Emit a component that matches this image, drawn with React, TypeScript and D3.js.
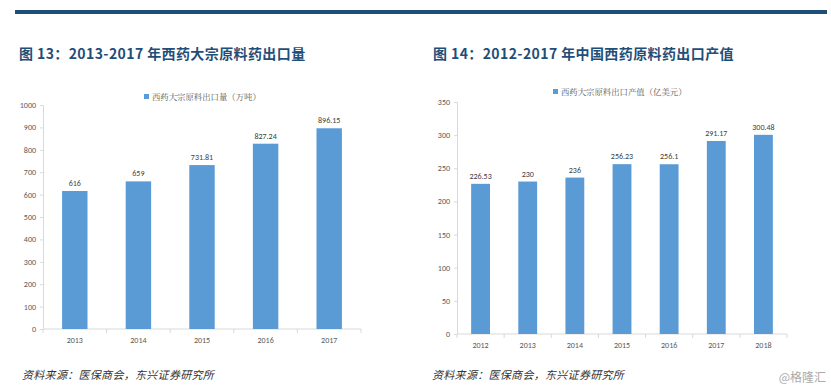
import { useRef, useEffect } from 'react';
import * as d3 from 'd3';

// 图 13
const volumeYears = ['2013', '2014', '2015', '2016', '2017'];
const volumeValues = [616, 659, 731.81, 827.24, 896.15];
const volumeTicks = [0, 100, 200, 300, 400, 500, 600, 700, 800, 900, 1000];

// 图 14
const valueYears = ['2012', '2013', '2014', '2015', '2016', '2017', '2018'];
const valueValues = [226.53, 230, 236, 256.23, 256.1, 291.17, 300.48];
const valueTicks = [0, 50, 100, 150, 200, 250, 300, 350];

const BAR = '#5b9bd5';
const AXIS = '#d9d9d9';
const TXT = '#595959';
const CJK = '"Noto Sans CJK SC", "Noto Sans", sans-serif';

const drawPanel = (svg, opts) => {
  const { years, values, ticks, max, left, right, top, bottom, title, titleX, legend, legendX, legendY, fmt } = opts;
  const g = svg.append('g');

  g.append('text')
    .attr('x', titleX)
    .attr('y', 59)
    .attr('fill', '#1f4e79')
    .attr('font-family', CJK)
    .attr('font-weight', 'bold')
    .attr('font-size', 14)
    .attr('letter-spacing', 0.4)
    .text(title);

  const x = d3.scaleBand().domain(years).range([left, right]).paddingInner(0.6).paddingOuter(0.3);
  const y = d3.scaleLinear().domain([0, max]).range([bottom, top]);

  // y axis
  const yAxis = g.append('g')
    .attr('transform', `translate(${left},0)`)
    .call(d3.axisLeft(y).tickValues(ticks).tickSize(3).tickPadding(4).tickFormat(d3.format('d')));
  yAxis.select('.domain').attr('stroke', AXIS);
  yAxis.selectAll('.tick line').attr('stroke', AXIS);
  yAxis.selectAll('.tick text').attr('fill', TXT).attr('font-size', 8).attr('font-family', 'Calibri, "Liberation Sans", sans-serif');

  // x axis with boundary ticks
  const xAxis = g.append('g').attr('transform', `translate(0,${bottom})`);
  xAxis.append('line').attr('x1', left).attr('x2', right).attr('stroke', AXIS);
  const step = (right - left) / years.length;
  d3.range(years.length + 1).forEach(i => {
    xAxis.append('line')
      .attr('x1', left + i * step).attr('x2', left + i * step)
      .attr('y1', 0).attr('y2', 4)
      .attr('stroke', AXIS);
  });
  xAxis.selectAll('text.xl')
    .data(years)
    .join('text')
    .attr('class', 'xl')
    .attr('x', d => x(d) + x.bandwidth() / 2)
    .attr('y', 14)
    .attr('text-anchor', 'middle')
    .attr('fill', TXT)
    .attr('font-size', 8)
    .attr('font-family', 'Calibri, "Liberation Sans", sans-serif')
    .text(d => d);

  const data = years.map((d, i) => ({ year: d, value: values[i] }));

  g.selectAll('rect.bar')
    .data(data)
    .join('rect')
    .attr('class', 'bar')
    .attr('x', d => x(d.year))
    .attr('y', d => y(d.value))
    .attr('width', x.bandwidth())
    .attr('height', d => y(0) - y(d.value))
    .attr('fill', BAR);

  g.selectAll('text.lbl')
    .data(data)
    .join('text')
    .attr('class', 'lbl')
    .attr('x', d => x(d.year) + x.bandwidth() / 2)
    .attr('y', d => y(d.value) - 5)
    .attr('text-anchor', 'middle')
    .attr('fill', '#404040')
    .attr('font-size', 8)
    .attr('font-family', 'Calibri, "Liberation Sans", sans-serif')
    .text(d => fmt(d.value));

  // legend
  g.append('rect')
    .attr('x', legendX).attr('y', legendY - 3)
    .attr('width', 5).attr('height', 5)
    .attr('fill', BAR);
  g.append('text')
    .attr('x', legendX + 8).attr('y', legendY + 3)
    .attr('fill', TXT)
    .attr('font-size', 8.4)
    .attr('font-family', '"Noto Serif CJK SC", "Noto Sans CJK SC", serif')
    .text(legend);
};

const App = () => {
  const svgRef = useRef();

  useEffect(() => {
    const svg = d3.select(svgRef.current);
    svg.selectAll('*').remove();

    svg.append('rect').attr('x', 15).attr('y', 10).attr('width', 812).attr('height', 4).attr('fill', '#1f4e79');

    const fmt = v => String(v);

    drawPanel(svg, {
      years: volumeYears, values: volumeValues, ticks: volumeTicks, max: 1000,
      left: 43, right: 361, top: 105, bottom: 329,
      title: '图 13：2013-2017 年西药大宗原料药出口量', titleX: 19,
      legend: '西药大宗原料出口量（万吨）', legendX: 144, legendY: 97, fmt
    });

    drawPanel(svg, {
      years: valueYears, values: valueValues, ticks: valueTicks, max: 350,
      left: 457, right: 787, top: 102, bottom: 334,
      title: '图 14：2012-2017 年中国西药原料药出口产值', titleX: 433,
      legend: '西药大宗原料出口产值（亿美元）', legendX: 553, legendY: 92, fmt
    });

    const notes = [{ x: 22, text: '资料来源：医保商会，东兴证券研究所' }, { x: 432, text: '资料来源：医保商会，东兴证券研究所' }];
    svg.selectAll('text.note')
      .data(notes)
      .join('text')
      .attr('class', 'note')
      .attr('x', d => d.x)
      .attr('y', 379)
      .attr('font-size', 11)
      .attr('letter-spacing', 0.3)
      .attr('font-style', 'italic')
      .attr('fill', '#333')
      .attr('font-family', CJK)
      .text(d => d.text);

    svg.append('text')
      .attr('x', 826).attr('y', 382)
      .attr('text-anchor', 'end')
      .attr('font-size', 12)
      .attr('fill', '#aaa')
      .attr('font-family', CJK)
      .text('@格隆汇');
  }, []);

  return <svg ref={svgRef} width="831" height="392" style={{ position: 'absolute', left: 0, top: 0, background: '#fff' }}></svg>;
};

export default App;
